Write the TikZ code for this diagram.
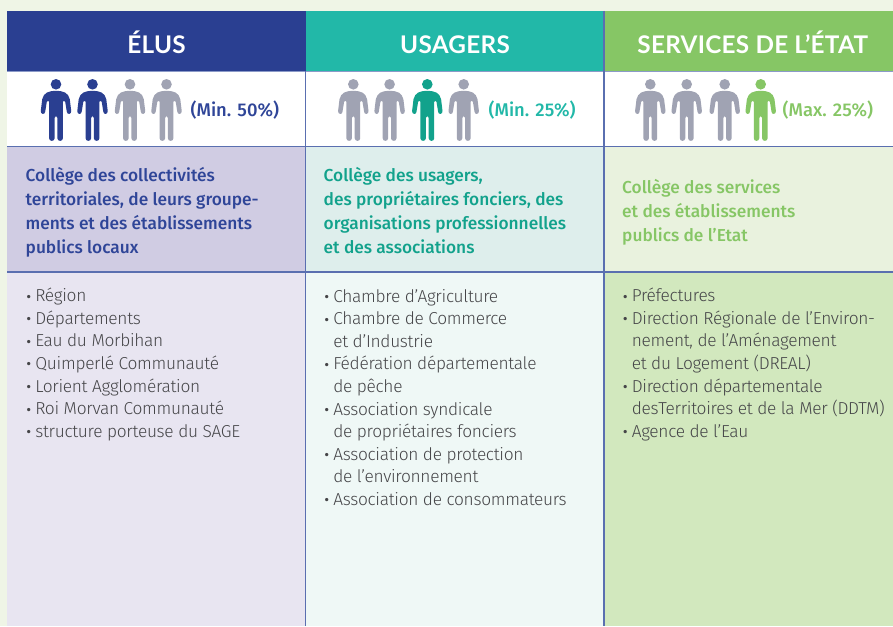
\documentclass[tikz,border=0pt]{standalone}
\usepackage{fontspec}
\setmainfont{Fira Sans}
\newfontfamily\lightf[LetterSpace=-1.7]{Fira Sans Light}
\newfontfamily\medf{Fira Sans Medium}
\newfontfamily\headf[LetterSpace=1.2]{Lato Bold}
\definecolor{pagebg}{HTML}{EFF5E6}
\definecolor{elusc}{HTML}{2A3F91}
\definecolor{elust}{HTML}{2F4598}
\definecolor{usagc}{HTML}{22B8A8}
\definecolor{usagd}{HTML}{12A28C}
\definecolor{servc}{HTML}{86C665}
\definecolor{greyp}{HTML}{A0A3B3}
\definecolor{lineb}{HTML}{5A6FB0}
\definecolor{cola}{HTML}{D0CCE3}
\definecolor{colb}{HTML}{DEEEEC}
\definecolor{colc}{HTML}{E9F2DE}
\definecolor{lista}{HTML}{E8E5F1}
\definecolor{listb}{HTML}{EFF8F6}
\definecolor{listc}{HTML}{D2E8BE}
\definecolor{bodyt}{HTML}{454548}
\newcommand{\manpath}{(0,6.6) .. controls (8,6.6) and (12.2,8.5) .. (13.8,15) -- (15.2,26.6) .. controls (15.6,30.2) and (11,30.8) .. (10.8,27.4) -- (9.2,17.5) .. controls (8.8,16.2) and (7,16.2) .. (6.9,17.5) -- (6.9,54) .. controls (6.9,57.4) and (1.6,57.4) .. (1.4,54) -- (1.4,33.5) -- (0,31.8) -- (-1.4,33.5) -- (-1.4,54) .. controls (-1.6,57.4) and (-6.9,57.4) .. (-6.9,54) -- (-6.9,17.5) .. controls (-7,16.2) and (-8.8,16.2) .. (-9.2,17.5) -- (-10.8,27.4) .. controls (-11,30.8) and (-15.6,30.2) .. (-15.2,26.6) -- (-13.8,15) .. controls (-12.2,8.5) and (-8,6.6) .. (0,6.6) -- cycle}
\newcommand{\bul}{\makebox[8.6pt][l]{\raisebox{0.6pt}{\medf\fontsize{13}{13}\selectfont •}}}
\newcommand{\ind}{\hspace*{8.6pt}}
\tikzset{
  x=1pt,y=-1pt,
  person/.pic={
    \fill[#1] (0,0) circle[radius=5.3];
    \fill[#1] \manpath;
  },
  headtxt/.style={text=white,inner sep=0pt,anchor=base,font=\headf\fontsize{24.3}{26}\selectfont},
  pct/.style={inner sep=0pt,anchor=base west,font=\medf\fontsize{18.4}{20}\selectfont},
  college/.style={inner sep=0pt,anchor=base west,align=left,font=\medf\fontsize{17.3}{24}\selectfont},
  listtxt/.style={inner sep=0pt,anchor=base west,align=left,text=bodyt,font=\lightf\fontsize{17.3}{22.6}\selectfont},
  rule/.style={draw=lineb,line width=1.7pt},
}
\begin{document}
\begin{tikzpicture}
\useasboundingbox (0,0) rectangle (893,626);
\fill[pagebg] (0,0) rectangle (893,626);
% header band
\fill[elusc] (7,11) rectangle (306,71);
\fill[usagc] (306,11) rectangle (604,71);
\fill[servc] (604,11) rectangle (893,71);
% white band
\fill[white] (7,71) rectangle (893,147);
% college band
\fill[cola] (7,147) rectangle (306,272);
\fill[colb] (306,147) rectangle (604,272);
\fill[colc] (604,147) rectangle (893,272);
% list band
\fill[lista] (7,272) rectangle (306,626);
\fill[listb] (306,272) rectangle (604,626);
\fill[listc] (604,272) rectangle (893,626);
% rules
\draw[rule,line width=0.8pt,draw=lineb!70] (7,71.2) -- (893,71.2);
\draw[rule] (7,146.6) -- (893,146.6);
\draw[rule] (7,272.2) -- (893,272.2);
\draw[rule] (305.6,71) -- (305.6,626);
\draw[rule] (603.8,11) -- (603.8,626);
% headers
\node[headtxt] (h1) at (156.5,53) {ÉLUS};
\node[headtxt] (h2) at (455,53) {USAGERS};
\node[headtxt] (h3) at (752.7,53) {SERVICES DE L’ÉTAT};
% people
\pic at (56,84.3) {person=elusc};
\pic at (92.5,84.3) {person=elusc};
\pic at (130,84.3) {person=greyp};
\pic at (166.5,84.3) {person=greyp};
\pic at (353.3,84.3) {person=greyp};
\pic at (389.6,84.3) {person=greyp};
\pic at (427.3,84.3) {person=usagd};
\pic at (463.7,84.3) {person=greyp};
\pic at (650.3,84.3) {person=greyp};
\pic at (686.7,84.3) {person=greyp};
\pic at (724.7,84.3) {person=greyp};
\pic at (760.7,84.3) {person=servc};
% percentages
\node[pct,text=elust] (p1) at (190.5,116) {(Min. 50\%)};
\node[pct,text=usagc] (p2) at (488.5,116) {(Min. 25\%)};
\node[pct,text=servc] (p3) at (782.5,116) {(Max. 25\%)};
% colleges
\node[college,text=elust] (c1) at (25.5,253.3) {Collège des collectivités\\territoriales, de leurs groupe-\\ments et des établissements\\publics locaux};
\node[college,text=usagd] (c2) at (323.5,253.3) {Collège des usagers,\\des propriétaires fonciers, des\\organisations professionnelles\\et des associations};
\node[college,text=servc] (c3) at (622,241) {Collège des services\\et des établissements\\publics de l’Etat};
% lists
\node[listtxt] (l1) at (26.5,437.3) {\bul Région\\\bul Départements\\\bul Eau du Morbihan\\\bul Quimperlé Communauté\\\bul Lorient Agglomération\\\bul Roi Morvan Communauté\\\bul structure porteuse du SAGE};
\node[listtxt] (l2) at (324.5,505.5) {\bul Chambre d’Agriculture\\\bul Chambre de Commerce\\\ind et d’Industrie\\\bul Fédération départementale\\\ind de pêche\\\bul Association syndicale\\\ind de propriétaires fonciers\\\bul Association de protection\\\ind de l’environnement\\\bul Association de consommateurs};
\node[listtxt] (l3) at (623,437.3) {\bul Préfectures\\\bul Direction Régionale de l’Environ-\\\ind nement, de l’Aménagement\\\ind et du Logement (DREAL)\\\bul Direction départementale\\\ind desTerritoires et de la Mer (DDTM)\\\bul Agence de l’Eau};
\end{tikzpicture}
\end{document}
